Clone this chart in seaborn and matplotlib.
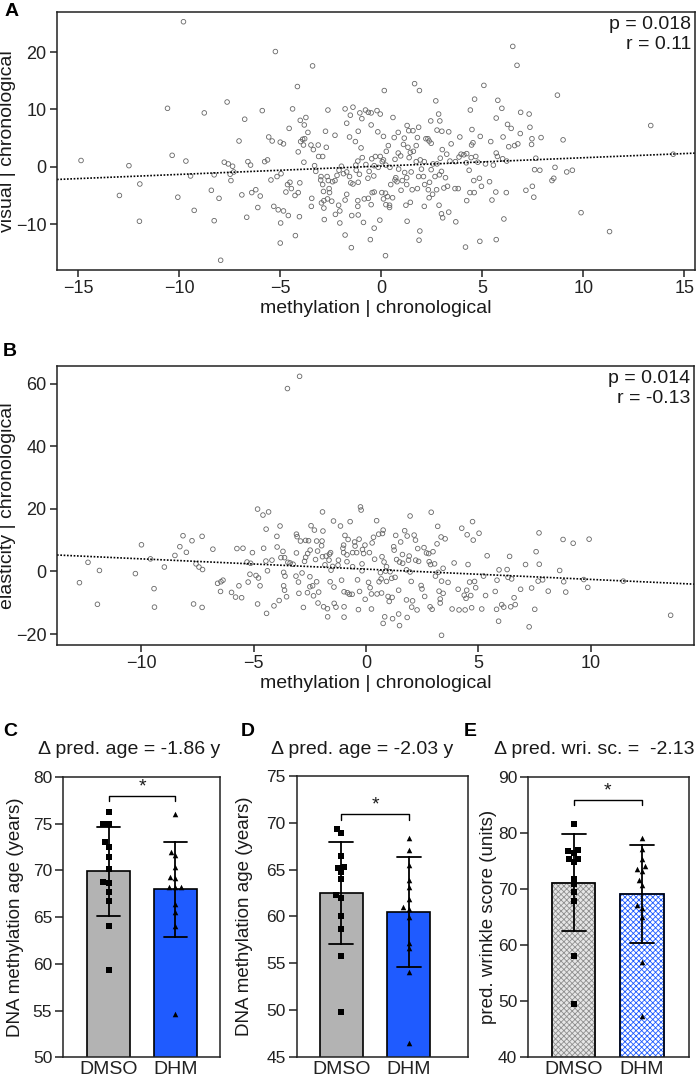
import numpy as np
import pandas as pd
import matplotlib
matplotlib.use("Agg")
import matplotlib.pyplot as plt
from matplotlib.patches import Rectangle
import seaborn as sns

# ---------------- data ----------------
# A: visual | chronological vs methylation | chronological
a_x = [-9.8, -5.25, -3.41, -4.16, 0.14, 1.64, 1.88, 5.07, 6.5, 6.71,
       8.71, 13.33, 14.44, -14.87, -12.5, -10.59, -10.36, -9.68, -8.77, -7.64,
       -6.77, -7.05, -5.9, -4.4, -4.57, -4.02, -3.74, -3.82, -3.64, -5.58,
       -5.41, -5.01, -4.85, -3.9, -3.8, -4.0, -4.12, -3.86, -3.49, -3.37,
       -3.13, -2.91, -2.73, -2.65, -2.77, -2.3, -1.8, -1.41, -1.54, -1.72,
       -1.58, -1.15, -1.07, -0.97, -0.79, -0.65, -0.51, -0.22, -0.06, -0.51,
       0.1, -0.18, 0.57, 0.63, 0.83, 1.13, 1.27, 1.35, 1.56, 1.84,
       1.78, 2.69, 2.83, 2.89, 2.75, 2.99, 3.33, 2.44, 2.2, 2.36,
       2.46, 2.3, 3.45, 3.88, 4.4, 4.61, 4.48, 4.89, 5.41, 5.76,
       5.96, 5.68, 6.24, 6.42, 6.02, 6.3, 6.59, 6.75, 6.87, 6.89,
       7.31, 7.35, 7.45, 7.43, 7.9, 8.99, 7.64, 7.58, 7.84, 8.59,
       8.44, 8.53, 9.17, 9.45, 7.47, 7.15, 7.54, 6.18, 5.68, 5.74,
       5.54, 5.15, 6.0, 4.77, 4.85, 5.35, 4.95, 4.57, 4.34, 4.59,
       4.22, 4.38, 5.66, 5.47, 6.06, 5.68, 4.87, 4.16, 3.68, 3.33,
       2.97, 3.03, 2.85, 2.12, 2.36, 2.53, 2.73, 3.09, 3.27, 3.64,
       3.8, 4.44, 4.53, 4.46, 4.67, 4.08, 3.84, 4.2, 3.66, 3.39,
       3.23, 3.01, 2.91, 2.75, 2.97, 2.87, 3.17, 2.65, 2.46, 2.55,
       2.12, 1.92, 1.98, 1.84, 2.08, 2.14, 2.32, 2.38, 1.47, 1.15,
       1.25, 0.85, 0.67, 0.34, 0.24, 0.04, 0.22, 0.42, 0.71, 0.77,
       1.03, 0.97, 1.25, 1.52, 1.78, 0.67, 0.46, 0.83, 0.95, 1.37,
       1.43, 1.58, 1.72, 1.31, 1.09, 1.72, 0.1, -0.06, -0.3, -0.48,
       -0.36, -0.61, -0.67, -0.38, -0.16, -0.77, -0.95, -1.01, -1.29, -1.17,
       -1.27, -1.25, -1.09, -1.15, -1.41, -1.58, -1.72, -1.88, -1.98, -2.1,
       -2.2, -2.3, -2.42, -2.63, -2.69, -2.99, -3.01, -2.91, -2.59, -2.57,
       -2.87, -2.85, -2.97, -3.45, -3.47, -2.85, -2.67, -2.46, -2.12, -2.06,
       -2.28, -2.06, -2.83, -1.72, -1.8, -1.52, -1.17, -0.85, -0.65, -0.46,
       -0.36, 0.02, 0.2, 0.3, 0.55, 0.4, 0.4, 0.22, 0.1, -0.51,
       -1.17, -1.47, -1.15, -0.89, -0.55, -0.08, -0.36, -1.8, -1.49, 0.2,
       1.27, 1.21, 1.43, 1.9, 1.86, -4.04, -4.12, -4.28, -4.73, -4.65,
       -4.53, -4.06, -4.46, -4.97, -5.17, -5.47, -5.33, -5.11, -4.85, -4.61,
       -4.99, -5.01, -4.26, -3.84, -3.25, -3.31, -3.11, -6.61, -6.48, -7.37,
       -7.31, -7.78, -7.58, -8.28, -7.49, -7.45, -8.42, -8.04, -8.28, -9.27,
       -10.08, -11.96, -11.98, -12.97, -9.45, -7.96, -6.91, -6.42, -6.22, -6.0,
       -6.12, -6.67, -5.78, -5.64, 9.88, 11.29, 6.2, 4.22, 3.94]
a_y = [25.3, 20.1, 17.6, 14.0, 13.3, 14.5, 13.3, 14.2, 21.0, 17.7,
       12.5, 7.2, 2.2, 1.1, 0.2, 10.2, 2.0, 1.0, 9.4, 11.3,
       8.3, 4.5, 9.8, 10.1, 6.7, 8.1, 8.6, 7.3, 6.0, 5.2,
       4.5, 4.3, 4.0, 4.8, 4.9, 4.4, 2.6, 3.8, 3.8, 3.0,
       3.8, 1.8, 3.4, 9.9, 6.2, 5.5, 10.1, 10.4, 9.0, 7.6,
       5.2, 6.2, 9.4, 8.4, 9.9, 9.5, 9.4, 9.8, 9.2, 7.3,
       5.3, 6.1, 8.6, 5.1, 6.0, 5.0, 7.2, 6.3, 6.3, 6.9,
       5.1, 11.5, 9.2, 8.0, 6.4, 6.2, 6.1, 8.0, 4.9, 4.5,
       4.1, 4.9, 4.0, 5.2, 9.9, 11.8, 6.5, 5.3, 4.4, 11.6,
       10.2, 8.5, 7.4, 6.7, 5.2, 3.5, 3.7, 4.0, 5.8, 9.5,
       9.2, 6.9, 4.9, 3.9, 5.1, 4.7, 1.5, -0.5, -0.6, -0.1,
       -2.4, -2.0, -0.9, -0.6, -3.4, -4.1, -5.3, -4.5, 2.4, 1.8,
       0.3, 0.5, 1.4, 0.8, -2.0, -2.6, -3.4, -2.4, -0.6, -4.5,
       -5.9, -4.5, -4.4, -5.8, -9.1, -12.7, -13.0, -14.0, -9.6, -7.9,
       -8.2, -8.9, -6.7, -6.9, -5.4, -4.8, -4.0, -3.7, -3.4, -3.8,
       -3.8, 1.6, 4.2, 3.8, 1.8, 2.1, 1.7, 0.7, 0.9, 1.0,
       2.2, 3.0, 1.5, 0.5, -0.8, -1.4, -1.9, -1.7, -0.5, 0.5,
       0.9, 1.2, -0.4, -1.7, -1.7, -3.1, -4.0, -2.7, -0.9, -1.0,
       -1.9, -0.4, 1.3, 3.7, 2.7, 0.9, 0.3, -0.1, -1.9, -2.6,
       -2.4, -4.1, -3.1, -4.0, -3.8, -2.3, -3.1, 2.4, 1.9, 1.6,
       2.5, 2.7, 3.7, 3.4, 3.9, 0.9, 1.2, 1.8, 1.8, 1.4,
       0.2, -0.8, -2.0, -1.6, -0.1, 0.4, 1.6, 3.3, 4.4, 1.0,
       0.3, -0.6, -1.3, -2.7, -3.0, -1.7, -0.9, -1.2, 0.1, -0.6,
       -1.5, -2.4, -2.6, -2.4, -1.7, -1.7, -2.3, -3.1, -3.8, -4.5,
       -4.3, -5.9, -6.3, -5.5, -6.9, -7.2, -5.6, -6.0, -6.7, -7.7,
       -8.3, -9.8, -9.2, -4.8, -5.8, -2.8, -5.9, -5.6, -5.5, -4.5,
       -4.4, -4.5, -4.6, -5.2, -5.4, -6.7, -7.1, -6.6, -5.6, -6.6,
       -6.9, -8.5, -8.4, -9.7, -12.7, -9.3, -10.7, -11.9, -14.1, -15.5,
       -9.5, -6.7, -6.2, -11.2, -12.8, -2.8, -4.5, -5.0, -4.4, -3.1,
       -2.7, -8.7, -3.8, -1.2, -1.7, -2.3, -6.9, -7.5, -7.7, -8.5,
       -9.8, -13.3, -12.0, 0.8, -0.8, 0.2, 1.8, 0.9, 0.3, 0.1,
       -0.9, 0.8, 0.5, -1.4, -1.3, -2.4, -4.1, -5.5, -9.4, -7.6,
       -5.3, -3.0, -9.5, -5.0, -1.6, -16.3, -4.9, -4.5, -4.0, -5.1,
       -7.1, -8.8, 0.9, 1.2, -8.0, -11.3, 1.0, 2.3, 2.2]
a_stats = "p = 0.018\nr = 0.11"

# B: elasticity | chronological vs methylation | chronological
b_x = [-3.5, -2.96, -12.76, -12.38, -11.96, -11.87, -10.27, -10.0, -9.6, -9.44,
       -9.42, -8.98, -8.51, -8.29, -8.15, -8.0, -7.75, -7.68, -7.57, -7.44,
       -7.3, -7.28, -7.3, -6.82, -6.61, -6.48, -6.46, -6.37, -5.99, -5.81,
       -5.75, -5.66, -5.54, -5.48, -5.25, -5.3, -5.14, -5.06, -5.17, -4.9,
       -4.83, -4.79, -4.72, -4.83, -4.59, -4.56, -4.45, -4.46, -4.43, -4.39,
       -4.34, -4.19, -4.1, -3.97, -3.96, -3.87, -3.83, -3.79, -3.7, -3.63,
       -3.61, -3.67, -3.67, -3.63, -3.54, -3.48, -3.38, -3.25, -3.12, -3.1,
       -3.1, -3.07, -3.01, -2.99, -2.92, -2.85, -2.79, -2.74, -2.69, -2.69,
       -2.6, -2.56, -2.61, -2.5, -2.5, -2.49, -2.45, -2.38, -2.34, -2.3,
       -2.25, -2.2, -2.2, -2.14, -2.16, -2.11, -1.98, -1.96, -1.94, -1.94,
       -1.92, -1.89, -1.83, -1.78, -1.72, -1.71, -1.65, -1.63, -1.6, -1.58,
       -1.56, -1.49, -1.45, -1.43, -1.42, -1.34, -1.25, -1.23, -1.14, -1.09,
       -1.03, -1.0, -1.0, -0.98, -0.98, -0.98, -0.94, -0.85, -0.85, -0.83,
       -0.8, -0.74, -0.71, -0.62, -0.6, -0.6, -0.51, -0.49, -0.42, -0.38,
       -0.34, -0.31, -0.29, -0.25, -0.22, -0.18, -0.18, -0.16, -0.11, -0.05,
       -0.04, 0.11, 0.15, 0.18, 0.24, 0.27, 0.24, 0.33, 0.38, 0.47,
       0.49, 0.56, 0.58, 0.64, 0.67, 0.69, 0.71, 0.73, 0.76, 0.8,
       0.76, 0.83, 0.87, 0.91, 0.91, 0.98, 1.03, 1.07, 1.14, 1.16,
       1.18, 1.23, 1.25, 1.29, 1.32, 1.36, 1.45, 1.45, 1.49, 1.49,
       1.54, 1.62, 1.63, 1.72, 1.8, 1.8, 1.83, 1.83, 1.89, 1.92,
       1.96, 1.96, 2.01, 2.03, 2.07, 2.14, 2.2, 2.21, 2.27, 2.3,
       2.34, 2.45, 2.49, 2.58, 2.61, 2.69, 2.79, 2.81, 2.85, 2.87,
       2.9, 2.94, 2.98, 3.05, 3.09, 3.16, 3.19, 3.21, 3.25, 3.3,
       3.3, 3.34, 3.36, 3.43, 3.43, 3.52, 3.36, 3.65, 3.83, 3.92,
       4.1, 4.14, 4.26, 4.37, 4.41, 4.45, 4.48, 4.5, 4.54, 4.61,
       4.66, 4.74, 4.77, 4.83, 4.88, 4.7, 5.03, 5.15, 5.23, 5.32,
       5.39, 5.75, 5.81, 5.83, 5.9, 5.92, 6.04, 6.13, 6.28, 6.32,
       6.39, 6.44, 6.48, 6.59, 6.64, 6.88, 7.1, 7.26, 7.37, 7.51,
       7.57, 7.66, 7.71, 7.7, 7.86, 8.11, 8.62, 8.77, 8.8, 8.89,
       9.22, 9.69, 9.87, 9.93, 11.45, 13.56]
b_y = [58.4, 62.3, -3.6, 2.9, -10.5, 0.3, -0.7, 8.5, 4.0, -5.5,
       -11.4, 1.4, 5.1, 7.9, 11.4, 6.1, 9.8, -10.4, 2.4, 1.4,
       11.2, 0.6, -11.5, 7.1, -3.8, -6.4, -3.3, -2.8, -6.7, -8.2,
       7.3, -4.6, -8.4, 7.4, -3.4, 3.0, 2.6, 6.0, -0.9, -1.3,
       19.9, -2.1, -4.6, -10.4, 18.0, 7.4, 13.5, 3.3, -13.4, 0.2,
       19.0, 3.6, -11.0, 11.2, 7.8, -9.3, 14.5, 4.4, 6.4, 4.4,
       -1.5, -0.3, -4.6, -6.0, -8.1, 2.9, 2.7, 2.3, -1.5, 5.9,
       11.9, 11.1, -3.4, -7.0, 9.7, -0.5, -11.5, 3.2, 4.5, 9.9,
       5.7, 9.8, -6.8, -1.7, -4.9, 6.8, 14.6, -4.6, -7.8, 13.2,
       3.8, 9.7, -3.3, -10.1, 6.5, -6.6, 8.2, 9.7, 4.7, 19.0,
       12.9, -11.3, 2.1, 4.9, -11.9, -14.5, 3.6, 5.5, -3.3, 6.0,
       0.4, 1.6, 16.1, -5.0, -10.2, -11.4, 2.0, 3.6, 14.5, -2.8,
       7.4, 6.0, 8.4, -6.5, -11.3, -14.6, 11.5, 3.1, 5.3, -6.8,
       10.2, -7.3, 15.9, -7.3, 6.0, 1.5, 9.4, 8.1, 6.0, -2.7,
       -12.2, 10.3, -6.4, 20.6, 19.6, 2.4, 0.2, 7.0, 5.7, 8.4,
       -8.9, -3.5, 6.0, -5.2, -7.2, 9.1, -12.0, 10.9, 3.9, 16.2,
       -7.2, 11.9, -3.3, -0.4, -2.4, -6.9, 4.7, 12.1, 13.2, 3.0,
       -16.6, -14.5, 0.1, -3.2, 1.5, -8.0, -9.6, -0.1, -2.2, -8.3,
       -15.1, 7.9, 6.8, -1.9, 11.5, 3.8, -6.0, -13.6, 3.0, -17.3,
       9.4, 5.4, 2.6, 13.0, -9.1, 0.5, 11.3, -14.7, 3.6, 4.9,
       17.7, -0.2, -3.2, -11.4, -9.4, 11.6, 10.0, 3.6, -12.3, 7.3,
       3.2, -4.5, -5.6, 7.6, -8.0, 5.9, 5.7, 3.1, -11.3, 2.2,
       18.9, -12.1, 6.3, 2.4, -1.5, 8.8, 14.4, -0.3, -6.3, -8.8,
       -10.1, 11.0, -3.1, -7.0, 1.0, 10.4, -20.4, -3.5, -12.0, 2.7,
       -5.7, -12.3, 13.8, -7.6, -12.3, -8.6, -6.0, 11.7, 2.2, -3.4,
       -7.7, 15.9, 10.0, -3.2, -5.2, -11.6, 12.2, -12.0, -1.5, -7.7,
       5.0, -6.4, -12.1, -2.8, -15.9, 0.5, -10.6, -11.4, 0.6, -1.9,
       4.8, -11.3, -2.4, -8.4, -10.6, -5.7, 2.2, -17.7, -5.3, -12.1,
       6.3, -3.1, 2.3, 12.3, -2.7, -6.3, 0.3, 10.2, -3.3, -6.6,
       9.0, -2.6, -5.1, 10.3, -3.1, -14.0]
b_stats = "p = 0.014\nr = -0.13"

groups = ["DMSO", "DHM"]
# C: DNA methylation age (years)
c_dmso = [76.3, 75.0, 75.0, 73.0, 72.5, 71.4, 70.2, 68.7, 68.8, 67.7, 66.7, 64.1, 59.3]
c_dhm = [76.0, 72.0, 71.6, 70.4, 69.3, 69.2, 68.2, 68.2, 68.2, 66.4, 65.6, 64.0, 54.6]
# D: DNA methylation age (years)
d_dmso = [68.9, 69.3, 66.4, 65.3, 65.2, 64.7, 64.0, 62.0, 62.3, 60.0, 58.7, 55.8, 49.8]
d_dhm = [68.4, 67.1, 65.5, 63.9, 63.1, 61.9, 61.0, 60.8, 59.9, 56.6, 57.2, 54.0, 46.5]
# E: predicted wrinkle score (units)
e_dmso = [81.7, 76.8, 77.0, 76.4, 75.5, 75.4, 74.8, 71.9, 70.9, 69.5, 68.0, 58.1, 49.6]
e_dhm = [79.1, 77.2, 75.5, 74.2, 73.6, 73.3, 71.6, 70.8, 67.2, 66.6, 65.1, 57.0, 47.3]

# ---------------- style ----------------
sns.set_theme(style="ticks")
plt.rcParams["font.family"] = ["Liberation Sans", "DejaVu Sans"]
plt.rcParams.update({
    "axes.linewidth": 1.1,
    "axes.edgecolor": "#222222",
    "xtick.color": "#222222",
    "ytick.color": "#222222",
    "text.color": "#1a1a1a",
    "axes.labelcolor": "#1a1a1a",
    "hatch.linewidth": 0.6,
})

W, H = 699, 1079
fig = plt.figure(figsize=(W / 100, H / 100), dpi=100)


def box(l, t, r, b):
    return [l / W, 1 - b / H, (r - l) / W, (b - t) / H]


def scatter_panel(rect, x, y, xlim, ylim, xticks, yticks, ylabel, stats, xlabel_y):
    ax = fig.add_axes(rect)
    ax.set_xlim(xlim)
    sns.regplot(x=np.array(x), y=np.array(y), ax=ax, ci=None, truncate=False,
                scatter_kws=dict(s=11, color="#666666", facecolors="none",
                                 edgecolors="#666666", linewidths=0.6, alpha=1),
                line_kws=dict(color="black", lw=1.2, ls=(0, (1, 1))))
    ax.set_xlim(xlim)
    ax.set_ylim(ylim)
    ax.set_xticks(xticks)
    ax.set_yticks(yticks)
    ax.tick_params(direction="out", length=5, width=1.1, labelsize=13, pad=2.5)
    ax.set_xlabel("methylation | chronological", fontsize=14)
    ax.set_ylabel(ylabel, fontsize=14)
    ax.xaxis.set_label_coords(0.5, xlabel_y)
    ax.yaxis.set_label_coords(-0.064, 0.5)
    ax.text(0.994, 0.985, stats, transform=ax.transAxes, ha="right", va="top",
            fontsize=14, linespacing=1.25)
    return ax


scatter_panel(box(57, 12, 695, 270), a_x, a_y, (-16.06, 15.52), (-18, 27),
              [-15, -10, -5, 0, 5, 10, 15], [-10, 0, 10, 20],
              "visual | chronological", a_stats, -0.118)
scatter_panel(box(57, 366, 694, 645), b_x, b_y, (-13.76, 14.6), (-23.5, 65.6),
              [-10, -5, 0, 5, 10], [-20, 0, 20, 40, 60],
              "elasticity | chronological", b_stats, -0.108)


def bar_panel(rect, dmso, dhm, ylim, yticks, ylabel, xlim, colors, bracket_y, tip,
              label_x, hatch_colors=None):
    ax = fig.add_axes(rect)
    df = pd.DataFrame({"group": ["DMSO"] * len(dmso) + ["DHM"] * len(dhm),
                       "value": dmso + dhm})
    sns.barplot(data=df, x="group", y="value", hue="group", order=groups,
                hue_order=groups, palette=colors, saturation=1, legend=False,
                errorbar="sd", capsize=0.35, width=0.64, edgecolor="black",
                linewidth=1.2, err_kws={"color": "black", "linewidth": 1.3}, ax=ax)
    if hatch_colors is not None:
        for p, hc in zip(list(ax.patches), hatch_colors):
            p.set_hatch("xxxxxx")
            p.set_edgecolor(hc)
            ax.add_patch(Rectangle(p.get_xy(), p.get_width(), p.get_height(),
                                   fill=False, edgecolor="black", linewidth=1.2,
                                   zorder=p.get_zorder() + 0.1))
    for g, m in zip(groups, ["s", "^"]):
        sns.swarmplot(data=df[df["group"] == g], x="group", y="value", order=groups,
                      marker=m, color="black", size=4, ax=ax, zorder=4)
    ax.plot([0, 0, 1, 1], [bracket_y - tip, bracket_y, bracket_y, bracket_y - tip],
            color="black", lw=1.0)
    ax.annotate("*", xy=(0.5, bracket_y), xytext=(0, 6.5), textcoords="offset points",
                ha="center", va="center", fontsize=14)
    ax.set_xlim(xlim)
    ax.set_ylim(ylim)
    ax.set_yticks(yticks)
    ax.set_xlabel("")
    ax.set_ylabel(ylabel, fontsize=13.5)
    ax.yaxis.set_label_coords(label_x, 0.5)
    ax.tick_params(axis="y", length=6, width=1.1, labelsize=12.5, pad=2)
    ax.tick_params(axis="x", length=0, labelsize=14, pad=3)
    return ax


bar_colors = ["#b3b3b3", "#1f5bff"]
bar_panel(box(63.3, 777, 220, 1057.3), c_dmso, c_dhm, (50, 80), range(50, 81, 5),
          "DNA methylation age (years)", (-0.68, 1.67), bar_colors, 78.0, 0.6, -0.25)
bar_panel(box(296.7, 776, 468.3, 1056.7), d_dmso, d_dhm, (45, 75), range(45, 76, 5),
          "DNA methylation age (years)", (-0.66, 1.88), bar_colors, 70.9, 0.55, -0.252)
bar_panel(box(528.3, 777.3, 688.7, 1057.3), e_dmso, e_dhm, (40, 90), range(40, 91, 10),
          "pred. wrinkle score (units)", (-0.66, 1.68), ["#e6e6e6", "#ffffff"], 86.0, 1.0,
          -0.195, hatch_colors=["#8f8f8f", "#1f5bff"])

# titles and panel letters
titles = [(129, 750, "\u0394 pred. age = -1.86 y"),
          (361.7, 750, "\u0394 pred. age = -2.03 y"),
          (594, 750, "\u0394 pred. wri. sc. =  -2.13")]
for tx, ty, t in titles:
    fig.text(tx / W, 1 - ty / H, t, ha="center", va="center", fontsize=14)

letters = [(12, 12, "A"), (10, 352, "B"), (10, 732, "C"), (248, 732, "D"), (470, 732, "E")]
for lx, ly, t in letters:
    fig.text(lx / W, 1 - ly / H, t, ha="center", va="center", fontsize=14,
             fontweight="bold", color="black")

fig.savefig("out.png", dpi=100)
